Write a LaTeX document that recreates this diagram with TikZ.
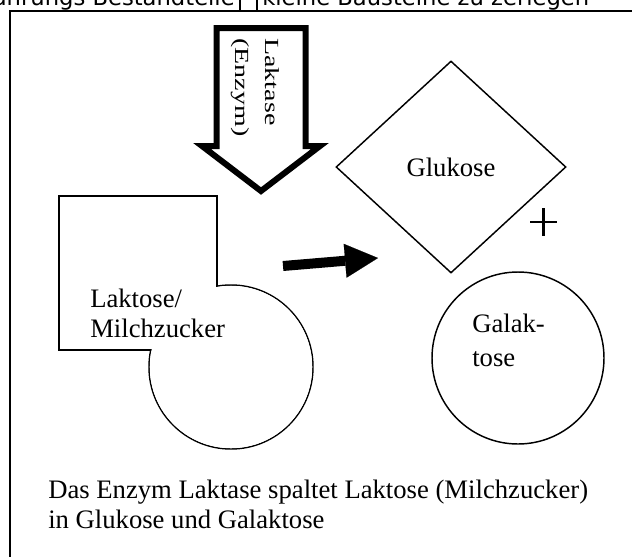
\documentclass[tikz,border=0pt]{standalone}
\usepackage{fontspec}
\setmainfont{Liberation Serif}
\newfontfamily\headsans{DejaVu Sans}
\usetikzlibrary{arrows.meta,shapes.geometric}
\begin{document}
\begin{tikzpicture}[x=0.75pt,y=-0.75pt,
  serif/.style={inner sep=0pt, font=\fontsize{20}{24}\selectfont},
  line/.style={serif, anchor=base west},
  vertical/.style={inner sep=0pt, anchor=base west, rotate=-90, xscale=1.4,
                   font=\fontsize{15}{18}\selectfont},
  headtext/.style={inner sep=0pt, font=\headsans\fontsize{17}{20}\selectfont},
  outline/.style={draw=black, line width=1.1pt},
  frame/.style={draw=black, line width=1.5pt},
  bigarrow/.style={draw=black, line width=4.5pt, line join=miter, fill=white},
  fatarrow/.style={draw=black, line width=7.5pt,
                   -{Triangle[length=24.75pt,width=25.5pt,line width=0.1pt]}}]
\useasboundingbox (0,0) rectangle (632,557);

% running header line and page frame
\begin{scope}
  \clip (0,0) rectangle (632,557);
  \node[headtext, anchor=base east] (headl) at (235,5.5) {Nahrungs Bestandteile};
  \node[headtext, anchor=base west] (headr) at (262,5.5) {kleine Bausteine zu zerlegen};
  \draw[line width=1.1pt] (240,-2) -- (240,10.5) (257,-2) -- (257,10.5);
  \draw[frame] (10,570) -- (10,10.5) -- (640,10.5);
\end{scope}

% hollow enzyme arrow
\draw[bigarrow] (216.5,28) -- (305.5,28) -- (305.5,146) -- (320,146)
  -- (261,191) -- (202,146) -- (216.5,146) -- cycle;
\node[vertical] (enz1) at (265,38) {Laktase};
\node[vertical] (enz2) at (235,38) {(Enzym)};

% lactose: square joined to a circle
\draw[outline] (59,196) rectangle (217,350);
\draw[outline] (231,367) circle[radius=82];
\fill[white] (59.8,196.8) rectangle (216.2,349.2);
\fill[white] (231,367) circle[radius=81.2];
\node[line] (lak1) at (90,307) {Laktose/};
\node[line] (lak2) at (90,337) {Milchzucker};

% reaction arrow
\coordinate (from) at (283,266);
\coordinate (to) at (378,258);
\draw[fatarrow] (from) -- (to);

% products
\node[diamond, outline, inner sep=0pt, minimum width=172.5pt, minimum height=159pt,
      serif] (glu) at (451,167) {Glukose};
\draw[line width=2pt] (530,222) -- (557,222) (543.5,208) -- (543.5,236);
\node[circle, outline, minimum size=129pt] (gal) at (518,358) {};
\node[line] (gal1) at (472,332) {Galak-};
\node[line] (gal2) at (472,366) {tose};

% caption
\node[line] (cap1) at (48,498) {Das Enzym Laktase spaltet Laktose (Milchzucker)};
\node[line] (cap2) at (48,528) {in Glukose und Galaktose};
\end{tikzpicture}
\end{document}
